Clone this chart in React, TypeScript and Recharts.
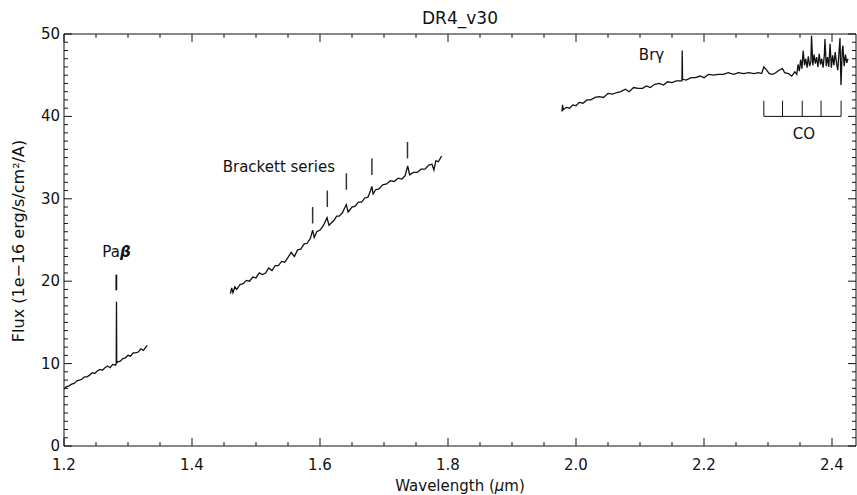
import React from 'react'
import { LineChart, Line, XAxis, YAxis, ReferenceLine, ReferenceDot, Label } from 'recharts'

// J band segment
const jWave = [
  1.2, 1.204, 1.208, 1.212, 1.216, 1.22, 1.224, 1.228, 1.232, 1.236, 1.24, 1.244, 1.248, 1.252,
  1.256, 1.26, 1.264, 1.268, 1.272, 1.276, 1.2805, 1.2816, 1.282, 1.2824, 1.284, 1.288, 1.292,
  1.296, 1.3, 1.304, 1.308, 1.312, 1.316, 1.32, 1.324, 1.328, 1.33,
]
const jFlux = [
  6.9, 7.2, 7.3, 7.5, 7.6, 7.9, 8.0, 8.1, 8.4, 8.4, 8.6, 8.9, 8.8, 9.1, 9.3, 9.2, 9.5, 9.7, 9.5,
  9.9, 9.8, 10.0, 17.5, 10.1, 10.2, 10.3, 10.6, 10.7, 11.0, 10.9, 11.3, 11.3, 11.4, 11.8, 11.6,
  12.0, 12.2,
]

// H band segment
const hWave = [
  1.46, 1.462, 1.464, 1.467, 1.47, 1.475, 1.48, 1.485, 1.49, 1.495, 1.5, 1.505, 1.51, 1.515, 1.52,
  1.525, 1.53, 1.535, 1.54, 1.545, 1.55, 1.555, 1.56, 1.565, 1.57, 1.575, 1.58, 1.585, 1.5885,
  1.591, 1.595, 1.6, 1.605, 1.611, 1.614, 1.618, 1.622, 1.626, 1.63, 1.635, 1.641, 1.644, 1.65,
  1.655, 1.66, 1.665, 1.67, 1.675, 1.679, 1.681, 1.683, 1.687, 1.692, 1.698, 1.704, 1.71, 1.716,
  1.722, 1.728, 1.733, 1.737, 1.74, 1.746, 1.752, 1.758, 1.764, 1.77, 1.775, 1.778, 1.781, 1.785,
  1.79,
]
const hFlux = [
  18.5, 19.2, 18.6, 19.3, 19.0, 19.6, 19.7, 20.1, 20.0, 20.5, 20.4, 21.0, 20.8, 21.0, 21.6, 21.3,
  21.9, 21.9, 22.4, 22.3, 22.9, 23.5, 23.0, 23.8, 23.9, 24.5, 24.6, 25.2, 26.2, 25.3, 26.0, 26.2,
  26.7, 27.7, 26.8, 27.1, 27.4, 27.9, 27.9, 28.3, 29.3, 28.4, 29.0, 29.1, 29.6, 29.6, 30.1, 30.2,
  31.0, 31.5, 30.6, 31.1, 31.2, 31.7, 31.8, 32.2, 32.1, 32.5, 32.4, 32.8, 34.0, 32.9, 33.2, 33.2,
  33.6, 33.6, 34.1, 34.2, 33.5, 34.6, 34.5, 35.2,
]

// K band segment
const kWave = [
  1.978, 1.979, 1.98, 1.985, 1.99, 1.995, 2.0, 2.005, 2.011, 2.017, 2.023, 2.03, 2.036, 2.043,
  2.05, 2.057, 2.064, 2.07, 2.077, 2.083, 2.09, 2.097, 2.104, 2.11, 2.116, 2.123, 2.13, 2.137,
  2.143, 2.15, 2.157, 2.1655, 2.166, 2.1665, 2.172, 2.18, 2.187, 2.194, 2.2, 2.207, 2.215, 2.222,
  2.23, 2.238, 2.246, 2.254, 2.262, 2.27, 2.278, 2.285, 2.29, 2.2935, 2.297, 2.302, 2.307, 2.312,
  2.317, 2.3227, 2.326, 2.332, 2.337, 2.342, 2.345, 2.347, 2.349, 2.351, 2.353, 2.355, 2.357,
  2.359, 2.361, 2.363, 2.365, 2.367, 2.368, 2.37, 2.372, 2.374, 2.376, 2.378, 2.38, 2.382, 2.384,
  2.386, 2.388, 2.389, 2.391, 2.393, 2.395, 2.397, 2.399, 2.401, 2.403, 2.405, 2.407, 2.409,
  2.411, 2.4125, 2.414, 2.416, 2.417, 2.419, 2.421, 2.423, 2.425,
]
const kFlux = [
  40.6, 41.4, 40.8, 41.1, 41.0, 41.4, 41.3, 41.7, 41.6, 42.0, 42.0, 42.3, 42.4, 42.3, 42.8, 42.7,
  42.9, 43.0, 43.3, 43.0, 43.5, 43.4, 43.4, 43.7, 43.5, 43.9, 44.0, 43.8, 44.2, 44.1, 44.3, 44.3,
  48.0, 44.5, 44.4, 44.7, 44.7, 44.9, 44.7, 45.1, 45.0, 45.1, 45.1, 45.3, 45.1, 45.3, 45.2, 45.3,
  45.2, 45.3, 45.2, 46.0, 45.7, 45.2, 45.1, 45.3, 45.6, 45.8, 45.3, 45.2, 44.9, 45.4, 45.1, 46.3,
  45.5, 46.9, 45.8, 48.0, 46.2, 47.0, 45.9, 47.3, 46.1, 46.6, 49.8, 46.2, 47.5, 46.4, 47.2, 46.0,
  47.6, 46.3, 47.0, 45.9, 47.4, 49.4, 46.1, 47.2, 46.0, 48.8, 45.9, 47.4, 46.2, 47.8, 46.5, 45.6,
  47.9, 49.5, 43.8, 48.0, 48.6, 46.1, 47.5, 46.5, 47.0,
]

// line identifications
const pabLine = 1.2818
const pabMark = [18.9, 20.8]
const brackettLines = [1.5885, 1.6114, 1.6412, 1.6811, 1.7367]
const brackettMarkTop = [29.0, 31.0, 33.1, 34.9, 36.9]
const coHeads = [2.2935, 2.3227, 2.3535, 2.3829, 2.4142]

const xTicks = Array.from({ length: 25 }, (_, i) => +(1.2 + i * 0.05).toFixed(2))
const yTicks = Array.from({ length: 51 }, (_, i) => i)

const zip = (w: number[], f: number[]) => w.map((v, i) => ({ w: v, f: f[i] }))
const jData = zip(jWave, jFlux)
const hData = zip(hWave, hFlux)
const kData = zip(kWave, kFlux)

const FONT = 'DejaVu Sans'
const INK = '#111'
const TICK = 0.001

const isMajorX = (v: number) => Math.abs(v * 5 - Math.round(v * 5)) < 1e-6
const isMajorY = (v: number) => v % 10 === 0

const renderBottomTick = (props: any) => {
  const { x, y, payload } = props
  const major = isMajorX(payload.value)
  return (
    <g>
      <path d={`M${x},${y}V${y - (major ? 8 : 4)}`} stroke={INK} />
      {major && (
        <text x={x} y={y + 24} textAnchor='middle' fontFamily={FONT} fontSize={15} fill={INK}>
          {payload.value.toFixed(1)}
        </text>
      )}
    </g>
  )
}

const renderTopTick = (props: any) => {
  const { x, y, payload } = props
  const major = isMajorX(payload.value)
  return <path d={`M${x},${y}V${y + (major ? 8 : 4)}`} stroke={INK} />
}

const renderLeftTick = (props: any) => {
  const { x, y, payload } = props
  const major = isMajorY(payload.value)
  return (
    <g>
      <path d={`M${x},${y}H${x + (major ? 8 : 4)}`} stroke={INK} />
      {major && (
        <text x={x - 4} y={y + 5} textAnchor='end' fontFamily={FONT} fontSize={15} fill={INK}>
          {payload.value}
        </text>
      )}
    </g>
  )
}

const renderRightTick = (props: any) => {
  const { x, y, payload } = props
  const major = isMajorY(payload.value)
  return <path d={`M${x},${y}H${x - (major ? 8 : 4)}`} stroke={INK} />
}

function Note({ cx, cy, text, anchor = 'middle', greek }: any) {
  return (
    <text x={cx} y={cy + 5} textAnchor={anchor} fontFamily={FONT} fontSize={15} fill={INK}>
      {text}
      {greek && (
        <tspan fontWeight='bold' fontStyle='italic'>
          {greek}
        </tspan>
      )}
    </text>
  )
}

export default function App() {
  return (
    <div style={{ position: 'absolute', left: 0, top: 0, background: '#fff' }}>
      <LineChart width={857} height={495} margin={{ top: 33, right: 0, bottom: 0, left: 0 }}>
        <XAxis
          dataKey='w'
          type='number'
          domain={[1.2, 2.4375]}
          ticks={xTicks}
          interval={0}
          tickSize={TICK}
          tickMargin={0}
          tickLine={false}
          tick={renderBottomTick}
          height={49}
          stroke={INK}
          allowDataOverflow
        >
          <Label
            content={({ viewBox }: any) => (
              <text
                x={viewBox.x + viewBox.width / 2}
                y={viewBox.y + 45}
                textAnchor='middle'
                fontFamily={FONT}
                fontSize={15}
                fill={INK}
              >
                Wavelength (<tspan fontStyle='italic'>μ</tspan>m)
              </text>
            )}
          />
        </XAxis>
        <XAxis
          xAxisId='top'
          orientation='top'
          dataKey='w'
          type='number'
          domain={[1.2, 2.4375]}
          ticks={xTicks}
          interval={0}
          tickSize={TICK}
          tickMargin={0}
          tickLine={false}
          tick={renderTopTick}
          height={1}
          stroke={INK}
          allowDataOverflow
        >
          <Label
            content={({ viewBox }: any) => (
              <text
                x={viewBox.x + viewBox.width / 2}
                y={viewBox.y - 9}
                textAnchor='middle'
                fontFamily={FONT}
                fontSize={17}
                fill={INK}
              >
                DR4_v30
              </text>
            )}
          />
        </XAxis>
        <YAxis
          type='number'
          domain={[0, 50]}
          ticks={yTicks}
          interval={0}
          tickSize={TICK}
          tickMargin={0}
          tickLine={false}
          tick={renderLeftTick}
          width={64}
          stroke={INK}
          allowDataOverflow
        >
          <Label
            content={() => {
              const cx = 24
              const cy = 241
              return (
                <text
                  x={cx}
                  y={cy}
                  transform={`rotate(-90 ${cx} ${cy})`}
                  textAnchor='middle'
                  fontFamily={FONT}
                  fontSize={16}
                  fill={INK}
                >
                  Flux (1e−16 erg/s/cm²/A)
                </text>
              )
            }}
          />
        </YAxis>
        <YAxis
          yAxisId='right'
          orientation='right'
          type='number'
          domain={[0, 50]}
          ticks={yTicks}
          interval={0}
          tickSize={TICK}
          tickMargin={0}
          tickLine={false}
          tick={renderRightTick}
          width={1}
          stroke={INK}
          allowDataOverflow
        />

        <Line data={jData} dataKey='f' stroke={INK} strokeWidth={1.3} dot={false} isAnimationActive={false} />
        <Line data={hData} dataKey='f' stroke={INK} strokeWidth={1.3} dot={false} isAnimationActive={false} />
        <Line data={kData} dataKey='f' stroke={INK} strokeWidth={1.3} dot={false} isAnimationActive={false} />
        <Line
          data={jData}
          dataKey='f'
          xAxisId='top'
          yAxisId='right'
          stroke='none'
          dot={false}
          legendType='none'
          isAnimationActive={false}
        />

        <ReferenceLine
          segment={[
            { x: pabLine, y: pabMark[0] },
            { x: pabLine, y: pabMark[1] },
          ]}
          stroke={INK}
          strokeWidth={1.8}
        />
        {brackettLines.map((w, i) => (
          <ReferenceLine
            key={`br-${i}`}
            segment={[
              { x: w, y: brackettMarkTop[i] - 2 },
              { x: w, y: brackettMarkTop[i] },
            ]}
            stroke='#333'
            strokeWidth={1.5}
          />
        ))}
        <ReferenceLine
          segment={[
            { x: coHeads[0], y: 40 },
            { x: coHeads[coHeads.length - 1], y: 40 },
          ]}
          stroke={INK}
        />
        {coHeads.map((w, i) => (
          <ReferenceLine
            key={`co-${i}`}
            segment={[
              { x: w, y: 40 },
              { x: w, y: 41.9 },
            ]}
            stroke={INK}
          />
        ))}

        <ReferenceDot x={1.282} y={23.6} r={1} shape={(p: any) => <Note {...p} text='Pa' greek='β' />} />
        <ReferenceDot
          x={1.448}
          y={33.9}
          r={1}
          shape={(p: any) => <Note {...p} text='Brackett series' anchor='start' />}
        />
        <ReferenceDot x={2.118} y={47.4} r={1} shape={(p: any) => <Note {...p} text='Brγ' />} />
        <ReferenceDot x={2.356} y={37.9} r={1} shape={(p: any) => <Note {...p} text='CO' />} />
      </LineChart>
    </div>
  )
}
